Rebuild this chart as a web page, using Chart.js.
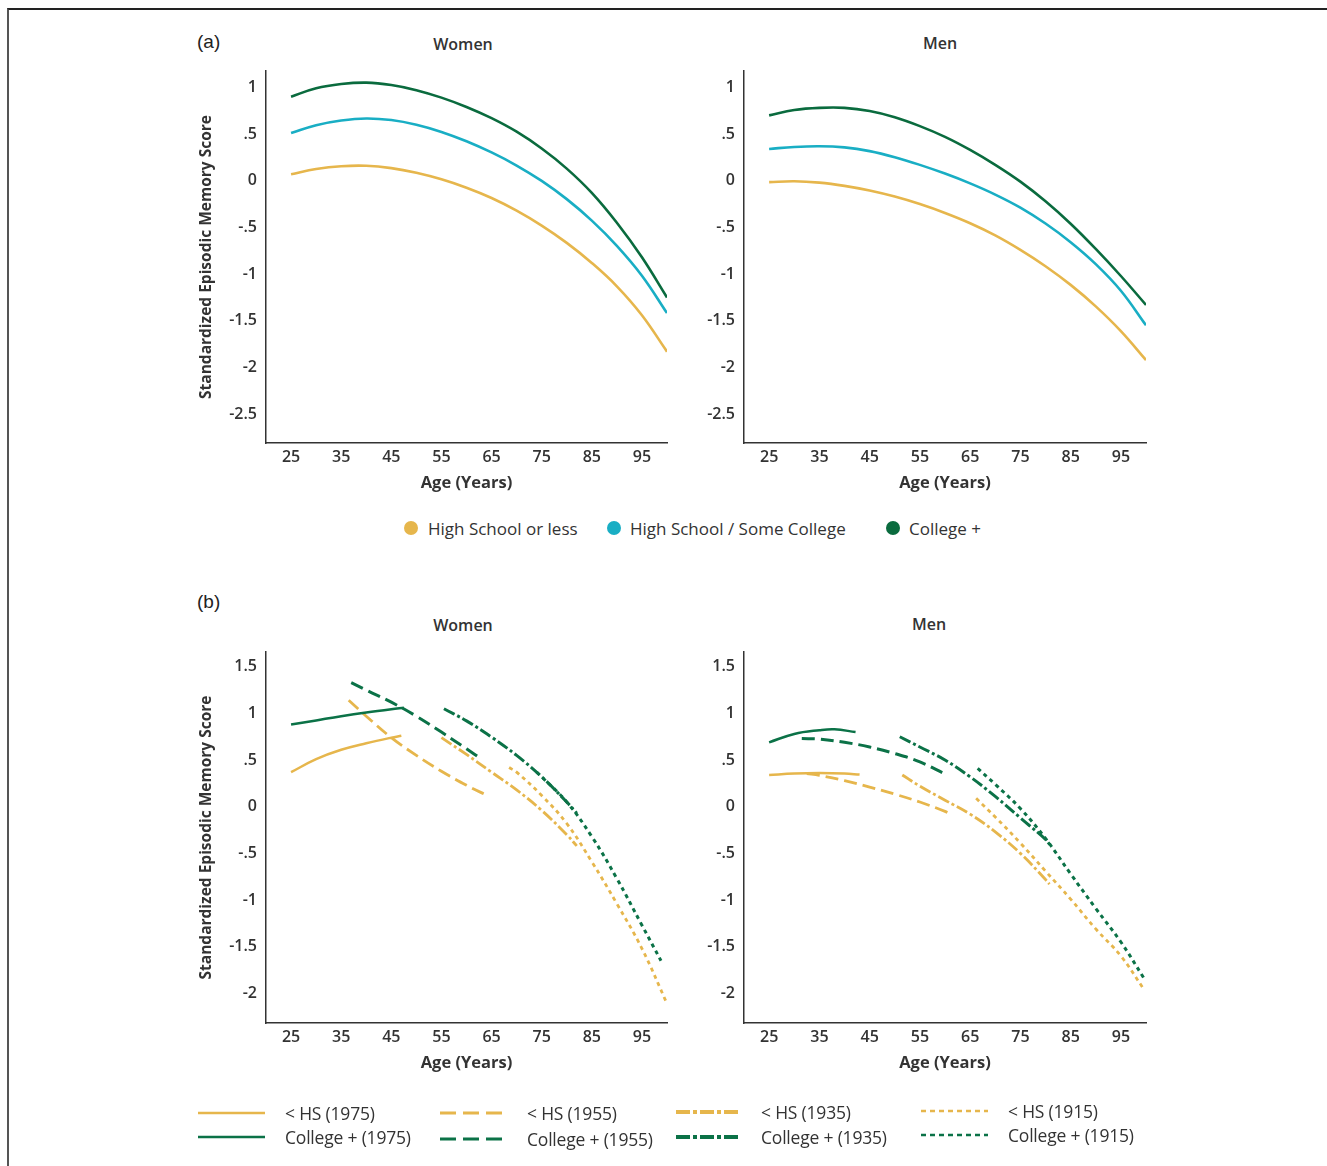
<!DOCTYPE html>
<html><head><meta charset="utf-8">
<script src="https://cdn.jsdelivr.net/npm/chart.js@4.4.1/dist/chart.umd.min.js"></script>
<style>
html,body{margin:0;padding:0;background:#fff;}
body{width:1327px;height:1166px;position:relative;overflow:hidden;font-family:"Open Sans",sans-serif;color:#333;}
.frame{position:absolute;left:7px;top:8px;width:1340px;height:1200px;border-top:2px solid #222;border-left:2px solid #555;}
.panel{position:absolute;}
.lbl{position:absolute;font-family:"Liberation Sans",Arial,sans-serif;font-size:19px;color:#222;line-height:1;}
.ptitle{position:absolute;font-size:16px;font-weight:600;color:#333;transform:translate(-50%,-50%);white-space:nowrap;}
.legA{position:absolute;font-size:17px;font-weight:500;color:#333;white-space:nowrap;transform:translateY(-50%);}
.dot{position:absolute;width:14px;height:14px;border-radius:50%;transform:translate(-50%,-50%);}
.legB{position:absolute;font-size:17.5px;color:#333;white-space:nowrap;transform:translateY(-50%);letter-spacing:-0.2px;}
svg{position:absolute;left:0;top:0;}
</style></head>
<body>
<div class="frame"></div>
<div class="lbl" style="left:197px;top:32px;">(a)</div>
<div class="lbl" style="left:197px;top:592px;">(b)</div>
<div class="ptitle" style="left:463px;top:44px;">Women</div>
<div class="ptitle" style="left:940px;top:43px;">Men</div>
<div class="ptitle" style="left:463px;top:625px;">Women</div>
<div class="ptitle" style="left:929px;top:624px;">Men</div>

<canvas id="aW" class="panel" width="490" height="440" style="left:185px;top:60px;"></canvas>
<canvas id="aM" class="panel" width="491" height="440" style="left:663px;top:60px;"></canvas>
<canvas id="bW" class="panel" width="490" height="439" style="left:185px;top:641px;"></canvas>
<canvas id="bM" class="panel" width="491" height="439" style="left:663px;top:641px;"></canvas>

<div id="legendA"></div>
<svg id="legSvg" width="1327" height="1166"></svg>
<div id="legendB"></div>

<script>
// ---------- tick labels ----------
const xTicks  = [25, 35, 45, 55, 65, 75, 85, 95];
const yTicksA = [1, 0.5, 0, -0.5, -1, -1.5, -2, -2.5];
const yTicksB = [1.5, 1, 0.5, 0, -0.5, -1, -1.5, -2];

// ---------- panel (a) ----------
const agesA = [25, 30, 35, 40, 45, 50, 55, 60, 65, 70, 75, 80, 85, 90, 95, 100];
const aWomenHsLess  = [0.07, 0.125, 0.155, 0.16, 0.135, 0.085, 0.015, -0.075, -0.185, -0.32, -0.48, -0.665, -0.88, -1.13, -1.44, -1.83];
const aWomenHsSome  = [0.51, 0.595, 0.645, 0.667, 0.65, 0.60, 0.523, 0.423, 0.303, 0.163, -0.002, -0.197, -0.427, -0.697, -1.017, -1.417];
const aWomenCollege = [0.90, 0.99, 1.035, 1.05, 1.025, 0.97, 0.89, 0.79, 0.67, 0.525, 0.345, 0.13, -0.13, -0.45, -0.82, -1.25];
const aMenHsLess    = [-0.015, -0.005, -0.02, -0.055, -0.105, -0.17, -0.25, -0.345, -0.455, -0.585, -0.74, -0.915, -1.115, -1.345, -1.61, -1.92];
const aMenHsSome    = [0.34, 0.362, 0.37, 0.357, 0.317, 0.252, 0.17, 0.077, -0.028, -0.148, -0.288, -0.458, -0.658, -0.893, -1.178, -1.548];
const aMenCollege   = [0.70, 0.757, 0.78, 0.78, 0.746, 0.68, 0.585, 0.47, 0.33, 0.17, -0.01, -0.22, -0.46, -0.73, -1.02, -1.33];
const legendALabels = ['High School or less', 'High School / Some College', 'College +'];

// ---------- panel (b) women ----------
const bW_hs1975_age  = [25, 30, 35, 40, 45, 47];
const bW_hs1975      = [0.37, 0.51, 0.61, 0.68, 0.74, 0.76];
const bW_col1975_age = [25, 30, 35, 40, 45, 47.5];
const bW_col1975     = [0.88, 0.925, 0.97, 1.01, 1.045, 1.06];
const bW_hs1955_age  = [36.5, 40, 45, 50, 55, 60, 64.5];
const bW_hs1955      = [1.14, 0.97, 0.74, 0.55, 0.38, 0.23, 0.11];
const bW_col1955_age = [37, 40, 45, 50, 55, 60, 63];
const bW_col1955     = [1.33, 1.25, 1.12, 0.97, 0.80, 0.62, 0.51];
const bW_hs1935_age  = [55, 60, 65, 70, 75, 80, 82];
const bW_hs1935      = [0.74, 0.56, 0.37, 0.18, -0.04, -0.30, -0.42];
const bW_col1935_age = [55.5, 60, 65, 70, 75, 80, 82];
const bW_col1935     = [1.05, 0.92, 0.745, 0.55, 0.32, 0.05, -0.07];
const bW_hs1915_age  = [68.5, 70, 75, 80, 85, 90, 95, 100];
const bW_hs1915      = [0.42, 0.37, 0.12, -0.18, -0.59, -1.04, -1.52, -2.11];
const bW_col1915_age = [74, 75, 80, 85, 90, 95, 98.8];
const bW_col1915     = [0.37, 0.32, 0.05, -0.32, -0.77, -1.27, -1.65];

// ---------- panel (b) men ----------
const bM_hs1975_age  = [25, 30, 35, 40, 43];
const bM_hs1975      = [0.34, 0.355, 0.36, 0.355, 0.345];
const bM_col1975_age = [25, 30, 35, 38, 42.2];
const bM_col1975     = [0.69, 0.78, 0.82, 0.83, 0.80];
const bM_hs1955_age  = [32.5, 35, 40, 45, 50, 55, 60, 61.5];
const bM_hs1955      = [0.355, 0.335, 0.28, 0.21, 0.135, 0.05, -0.05, -0.09];
const bM_col1955_age = [31.5, 35, 40, 45, 50, 55, 60];
const bM_col1955     = [0.73, 0.725, 0.69, 0.64, 0.57, 0.48, 0.35];
const bM_hs1935_age  = [51.5, 55, 60, 65, 70, 75, 80, 80.8];
const bM_hs1935      = [0.34, 0.22, 0.07, -0.08, -0.27, -0.50, -0.78, -0.83];
const bM_col1935_age = [51, 55, 60, 65, 70, 75, 80, 80.9];
const bM_col1935     = [0.75, 0.64, 0.50, 0.32, 0.11, -0.12, -0.35, -0.41];
const bM_hs1915_age  = [66.2, 70, 75, 80, 85, 90, 95, 99.5];
const bM_hs1915      = [0.09, -0.11, -0.39, -0.69, -0.99, -1.31, -1.60, -1.95];
const bM_col1915_age = [66.5, 70, 75, 80, 85, 90, 95, 99.5];
const bM_col1915     = [0.41, 0.24, -0.02, -0.34, -0.72, -1.09, -1.45, -1.83];

const legendBLabels = [['< HS (1975)', 'College + (1975)'], ['< HS (1955)', 'College + (1955)'],
                       ['< HS (1935)', 'College + (1935)'], ['< HS (1915)', 'College + (1915)']];

// ---------- styles ----------
const YEL = '#E6B64C', CYAN = '#19AEC4', GRN_A = '#0A6B3E', GRN = '#0B7247';
const DASH = { c1975: [], c1955: [13, 6], c1935: [12, 3, 3, 3], c1915: [4, 4] };

const FONT = 'Open Sans';
const zip = (xs, ys) => xs.map((x, i) => ({ x: x, y: ys[i] }));
const fmt = v => v === 0 ? '0' : String(v).replace(/^(-?)0\./, '$1.');

function line(xs, ys, color, dash, width) {
  return { data: zip(xs, ys), borderColor: color, backgroundColor: color, borderWidth: width,
           borderDash: dash, pointRadius: 0, fill: false, cubicInterpolationMode: 'default', tension: 0.4,
           borderCapStyle: 'butt' };
}

function makeChart(id, datasets, yMin, yMax, yTicks, showYTitle) {
  return new Chart(document.getElementById(id), {
    type: 'line',
    data: { datasets: datasets },
    options: {
      responsive: false, animation: false, devicePixelRatio: 1,
      layout: { padding: { left: 0, right: 8, top: 11, bottom: 0 } },
      plugins: { legend: { display: false }, tooltip: { enabled: false }, title: { display: false } },
      scales: {
        x: {
          type: 'linear', min: 20, max: 100,
          grid: { display: false, drawTicks: false },
          border: { display: true, color: '#333', width: 1.5 },
          ticks: { font: { family: FONT, size: 16, weight: '600' }, color: '#333', padding: 4.4, autoSkip: false, maxRotation: 0 },
          title: { display: true, text: 'Age (Years)', font: { family: FONT, size: 16.5, weight: 'bold' }, color: '#333', padding: { top: 0, bottom: 7.1 } },
          afterBuildTicks: s => { s.ticks = xTicks.map(v => ({ value: v })); },
          afterFit: s => { s.height = 57; s.paddingLeft = 0; s.paddingRight = 0; }
        },
        y: {
          type: 'linear', min: yMin, max: yMax,
          grid: { display: false, drawTicks: false },
          border: { display: true, color: '#333', width: 1.5 },
          ticks: { font: { family: FONT, size: 16, weight: '600' }, color: '#333', padding: 9, autoSkip: false, callback: v => fmt(v) },
          title: { display: showYTitle, text: 'Standardized Episodic Memory Score', font: { family: FONT, size: 15.5, weight: 'bold' }, color: '#333', padding: { top: 12.7, bottom: 0 } },
          afterBuildTicks: s => { s.ticks = yTicks.map(v => ({ value: v })); },
          afterFit: s => { s.width = 81; s.paddingTop = 0; s.paddingBottom = 0; }
        }
      }
    }
  });
}

// panel (a)
makeChart('aW', [
  line(agesA, aWomenCollege, GRN_A, [], 2.6),
  line(agesA, aWomenHsSome, CYAN, [], 2.6),
  line(agesA, aWomenHsLess, YEL, [], 2.6)
], -2.808, 1.175, yTicksA, true);
makeChart('aM', [
  line(agesA, aMenCollege, GRN_A, [], 2.6),
  line(agesA, aMenHsSome, CYAN, [], 2.6),
  line(agesA, aMenHsLess, YEL, [], 2.6)
], -2.808, 1.175, yTicksA, false);

// panel (b)
makeChart('bW', [
  line(bW_col1975_age, bW_col1975, GRN, DASH.c1975, 2.5),
  line(bW_col1955_age, bW_col1955, GRN, DASH.c1955, 3),
  line(bW_col1935_age, bW_col1935, GRN, DASH.c1935, 3),
  line(bW_col1915_age, bW_col1915, GRN, DASH.c1915, 3),
  line(bW_hs1975_age, bW_hs1975, YEL, DASH.c1975, 2.5),
  line(bW_hs1955_age, bW_hs1955, YEL, DASH.c1955, 2.8),
  line(bW_hs1935_age, bW_hs1935, YEL, DASH.c1935, 2.8),
  line(bW_hs1915_age, bW_hs1915, YEL, DASH.c1915, 2.8)
], -2.318, 1.658, yTicksB, true);
makeChart('bM', [
  line(bM_col1975_age, bM_col1975, GRN, DASH.c1975, 2.5),
  line(bM_col1955_age, bM_col1955, GRN, DASH.c1955, 3),
  line(bM_col1935_age, bM_col1935, GRN, DASH.c1935, 3),
  line(bM_col1915_age, bM_col1915, GRN, DASH.c1915, 3),
  line(bM_hs1975_age, bM_hs1975, YEL, DASH.c1975, 2.5),
  line(bM_hs1955_age, bM_hs1955, YEL, DASH.c1955, 2.8),
  line(bM_hs1935_age, bM_hs1935, YEL, DASH.c1935, 2.8),
  line(bM_hs1915_age, bM_hs1915, YEL, DASH.c1915, 2.8)
], -2.318, 1.658, yTicksB, false);

// ---------- legend (a) ----------
(function () {
  const host = document.getElementById('legendA');
  const dotX = [411, 614, 893], txtX = [428, 630, 909], cols = [YEL, CYAN, GRN_A];
  legendALabels.forEach((t, i) => {
    const d = document.createElement('div'); d.className = 'dot';
    d.style.left = dotX[i] + 'px'; d.style.top = '528px'; d.style.background = cols[i];
    host.appendChild(d);
    const s = document.createElement('div'); s.className = 'legA';
    s.style.left = txtX[i] + 'px'; s.style.top = '528px'; s.textContent = t;
    host.appendChild(s);
  });
})();

// ---------- legend (b) ----------
(function () {
  const host = document.getElementById('legendB');
  const svg = document.getElementById('legSvg');
  const lineX = [[198, 265], [440, 505], [676, 741], [921, 988]];
  const txtX = [285, 527, 761, 1008];
  const rowY = [[1113, 1137], [1113, 1139], [1112, 1137], [1111, 1135]];
  const dashes = [[], [16, 7], [14, 3, 4, 3], [5, 4]];
  const widths = [2.5, 2.8, 4, 2.5];
  const cols = [YEL, GRN];
  for (let c = 0; c < 4; c++) {
    for (let r = 0; r < 2; r++) {
      const l = document.createElementNS('http://www.w3.org/2000/svg', 'line');
      l.setAttribute('x1', lineX[c][0]); l.setAttribute('x2', lineX[c][1]);
      l.setAttribute('y1', rowY[c][r]); l.setAttribute('y2', rowY[c][r]);
      l.setAttribute('stroke', cols[r]); l.setAttribute('stroke-width', widths[c]);
      if (dashes[c].length) l.setAttribute('stroke-dasharray', dashes[c].join(' '));
      svg.appendChild(l);
      const s = document.createElement('div'); s.className = 'legB';
      s.style.left = txtX[c] + 'px'; s.style.top = rowY[c][r] + 'px'; s.textContent = legendBLabels[c][r];
      host.appendChild(s);
    }
  }
})();
</script>
</body></html>
